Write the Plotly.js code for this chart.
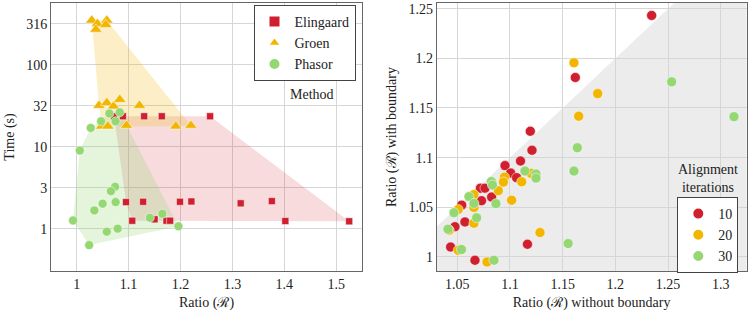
<!DOCTYPE html>
<html>
<head>
<meta charset="utf-8">
<script src="https://cdn.plot.ly/plotly-3.0.1.min.js"></script>
<style>html,body{margin:0;padding:0;background:#fff;}#chart{width:748px;height:316px;}</style>
</head>
<body>
<div id="chart"></div>
<script>
// ---- Left panel data: Ratio (R) vs Time (s) per method ----
const elingaardRatio = [1.072, 1.089, 1.130, 1.164, 1.257, 1.095, 1.128, 1.199, 1.221, 1.316, 1.376, 1.107, 1.150, 1.173, 1.180, 1.402, 1.525];
const elingaardTime  = [23.6, 23.6, 23.6, 23.6, 23.6, 2.11, 2.13, 2.13, 2.15, 2.04, 2.17, 1.25, 1.30, 1.25, 1.25, 1.24, 1.23];

const groenRatio = [1.029, 1.040, 1.058, 1.037, 1.056, 1.043, 1.058, 1.071, 1.083, 1.121, 1.048, 1.060, 1.096, 1.191, 1.220];
const groenTime  = [350, 319, 350, 271, 310, 31.9, 34.4, 31.3, 37.7, 31.9, 17.8, 17.8, 18.2, 17.8, 18.2];

const phasorRatio = [1.063, 1.083, 1.047, 1.075, 1.027, 1.006, 1.074, 1.066, 1.050, 1.075, 1.034, 0.993, 1.058, 1.079, 1.024, 1.141, 1.165, 1.196];
const phasorTime  = [25.5, 26.4, 20.5, 20.5, 17.0, 9.0, 3.25, 2.87, 2.02, 2.11, 1.67, 1.26, 0.92, 1.00, 0.63, 1.36, 1.52, 1.07];

const timeTickVals = [1, 3.1623, 10, 31.623, 100, 316.23];
const timeTickText = ['1', '3', '10', '32', '100', '316'];
const ratioTicks = [1, 1.1, 1.2, 1.3, 1.4, 1.5];

// ---- Right panel data: Ratio without vs with boundary per alignment iterations ----
const it10Without = [1.2344, 1.1620, 1.1193, 1.1209, 1.1100, 1.0953, 1.1007, 1.1063, 1.0720, 1.0763, 1.0826, 1.0730, 1.0542, 1.0573, 1.0478, 1.0437, 1.0668, 1.1166];
const it10With    = [1.2432, 1.1807, 1.1266, 1.1074, 1.0966, 1.0920, 1.0845, 1.0799, 1.0693, 1.0693, 1.0603, 1.0567, 1.0522, 1.0353, 1.0305, 1.0100, 0.9967, 1.0128];

const it20Without = [1.1607, 1.1832, 1.1652, 1.1199, 1.1111, 1.0948, 1.0938, 1.0889, 1.1016, 1.0658, 1.0658, 1.0509, 1.0424, 1.0658, 1.1285, 1.0509, 1.0782];
const it20With    = [1.1955, 1.1645, 1.1417, 1.0842, 1.0757, 1.0804, 1.0754, 1.0668, 1.0572, 1.0628, 1.0499, 1.0478, 1.0269, 1.0340, 1.0246, 1.0068, 0.9950];

const it30Without = [1.2534, 1.3125, 1.1639, 1.1607, 1.1142, 1.1247, 1.1247, 1.0824, 1.0834, 1.0867, 1.0611, 1.0658, 1.0469, 1.0684, 1.0412, 1.0540, 1.0848, 1.1552];
const it30With    = [1.1763, 1.1413, 1.1100, 1.0865, 1.0865, 1.0835, 1.0794, 1.0759, 1.0724, 1.0537, 1.0608, 1.0539, 1.0446, 1.0394, 1.0280, 1.0075, 0.9967, 1.0135];

const rxTicks = [1.05, 1.1, 1.15, 1.2, 1.25, 1.3];
const ryTicks = [1, 1.05, 1.1, 1.15, 1.2, 1.25];

// ---- styles ----
const RED = '#d01f2e', YEL = '#f2b600', GRN = '#95d873';
const FONT = 'Times New Roman';

// convex hull in (x, log10 y) space
function hull(xs, ys, logY) {
  const pts = xs.map((x, i) => [x, logY ? Math.log10(ys[i]) : ys[i], ys[i]]);
  pts.sort((a, b) => a[0] - b[0] || a[1] - b[1]);
  const cross = (o, a, b) => (a[0] - o[0]) * (b[1] - o[1]) - (a[1] - o[1]) * (b[0] - o[0]);
  const lower = [], upper = [];
  for (const p of pts) { while (lower.length >= 2 && cross(lower[lower.length-2], lower[lower.length-1], p) <= 0) lower.pop(); lower.push(p); }
  for (let i = pts.length - 1; i >= 0; i--) { const p = pts[i]; while (upper.length >= 2 && cross(upper[upper.length-2], upper[upper.length-1], p) <= 0) upper.pop(); upper.push(p); }
  const h = lower.slice(0, -1).concat(upper.slice(0, -1));
  h.push(h[0]);
  return {x: h.map(p => p[0]), y: h.map(p => p[2])};
}

function hullTrace(xs, ys, color) {
  const h = hull(xs, ys, true);
  return {x: h.x, y: h.y, xaxis: 'x', yaxis: 'y', type: 'scatter', mode: 'lines', fill: 'toself',
          fillcolor: color, line: {width: 0}, hoverinfo: 'skip', showlegend: false};
}

const traces = [
  hullTrace(elingaardRatio, elingaardTime, 'rgba(208,31,46,0.16)'),
  hullTrace(groenRatio, groenTime, 'rgba(242,182,0,0.22)'),
  hullTrace(phasorRatio, phasorTime, 'rgba(149,216,115,0.25)'),
  {x: elingaardRatio, y: elingaardTime, name: 'Elingaard', type: 'scatter', mode: 'markers', xaxis: 'x', yaxis: 'y', legend: 'legend',
   marker: {symbol: 'square', size: 7, color: RED, line: {width: 0.5, color: '#fff'}}},
  {x: groenRatio, y: groenTime, name: 'Groen', type: 'scatter', mode: 'markers', xaxis: 'x', yaxis: 'y', legend: 'legend',
   marker: {symbol: 'triangle-up', size: 11, color: YEL, line: {width: 0.5, color: '#fff'}}},
  {x: phasorRatio, y: phasorTime, name: 'Phasor', type: 'scatter', mode: 'markers', xaxis: 'x', yaxis: 'y', legend: 'legend',
   marker: {symbol: 'circle', size: 9, color: GRN, line: {width: 0.5, color: '#fff'}}},
  {x: it10Without, y: it10With, name: '10', type: 'scatter', mode: 'markers', xaxis: 'x2', yaxis: 'y2', legend: 'legend2',
   marker: {symbol: 'circle', size: 10, color: RED, line: {width: 0.5, color: '#fff'}}},
  {x: it20Without, y: it20With, name: '20', type: 'scatter', mode: 'markers', xaxis: 'x2', yaxis: 'y2', legend: 'legend2',
   marker: {symbol: 'circle', size: 10, color: YEL, line: {width: 0.5, color: '#fff'}}},
  {x: it30Without, y: it30With, name: '30', type: 'scatter', mode: 'markers', xaxis: 'x2', yaxis: 'y2', legend: 'legend2',
   marker: {symbol: 'circle', size: 10, color: GRN, line: {width: 0.5, color: '#fff'}}}
];

const axisCommon = {showline: true, mirror: true, linecolor: '#666', linewidth: 1, gridcolor: '#d6d6d6', gridwidth: 1,
                    zeroline: false, ticks: '', tickfont: {family: FONT, size: 14, color: '#222'}};

const W = 748;
const layout = {
  width: 748, height: 316,
  margin: {l: 0, r: 0, t: 3, b: 45},
  paper_bgcolor: '#fff', plot_bgcolor: '#fff',
  font: {family: FONT, size: 14, color: '#222'},
  xaxis: Object.assign({}, axisCommon, {domain: [51 / W, 362 / W], range: [0.9505, 1.5497], tickvals: ratioTicks,
          ticktext: ratioTicks.map(String), title: {text: 'Ratio (ℛ)', font: {family: FONT, size: 14}, standoff: 6}, anchor: 'y'}),
  yaxis: Object.assign({}, axisCommon, {type: 'log', range: [-0.517, 2.756], tickvals: timeTickVals, ticktext: timeTickText,
          title: {text: 'Time (s)', font: {family: FONT, size: 14}, standoff: 8}, anchor: 'x'}),
  xaxis2: Object.assign({}, axisCommon, {domain: [436.7 / W, 746.5 / W], range: [1.0305, 1.3244], tickvals: rxTicks,
          ticktext: rxTicks.map(String), title: {text: 'Ratio (ℛ) without boundary', font: {family: FONT, size: 14}, standoff: 6}, anchor: 'y2'}),
  yaxis2: Object.assign({}, axisCommon, {range: [0.9859, 1.2557], tickvals: ryTicks, ticktext: ryTicks.map(String),
          title: {text: 'Ratio (ℛ) with boundary', font: {family: FONT, size: 14}, standoff: 8}, anchor: 'x2'}),
  shapes: [{type: 'path', xref: 'x2', yref: 'y2', layer: 'below', path: 'M 1.0,1.0 L 1.4,1.4 L 1.4,0.9 L 1.0,0.9 Z',
            fillcolor: '#ececec', line: {width: 0}}],
  legend: {x: 355.5 / W, xanchor: 'right', y: 1 - (5 - 3) / 268, yanchor: 'top', bgcolor: '#fff', bordercolor: '#444', borderwidth: 1,
           font: {family: FONT, size: 14, color: '#222'}, tracegroupgap: 0, itemwidth: 30, itemsizing: 'constant'},
  legend2: {x: 738.3 / W, xanchor: 'right', y: 1 - (197 - 3) / 268, yanchor: 'top', bgcolor: '#fff', bordercolor: '#444', borderwidth: 1,
           font: {family: FONT, size: 14, color: '#222'}, tracegroupgap: 0, itemwidth: 30, itemsizing: 'constant'},
  annotations: [
    {text: 'Method', xref: 'paper', yref: 'paper', x: 312 / W, y: 1 - (94 - 3) / 268, xanchor: 'center', yanchor: 'middle',
     showarrow: false, font: {family: FONT, size: 14, color: '#222'}},
    {text: 'Alignment<br>iterations', xref: 'paper', yref: 'paper', x: 708 / W, y: 1 - (178 - 3) / 268, xanchor: 'center', yanchor: 'middle',
     showarrow: false, font: {family: FONT, size: 14, color: '#222'}}
  ],
  showlegend: true
};

Plotly.newPlot('chart', traces, layout, {staticPlot: true, displayModeBar: false});
</script>
</body>
</html>
